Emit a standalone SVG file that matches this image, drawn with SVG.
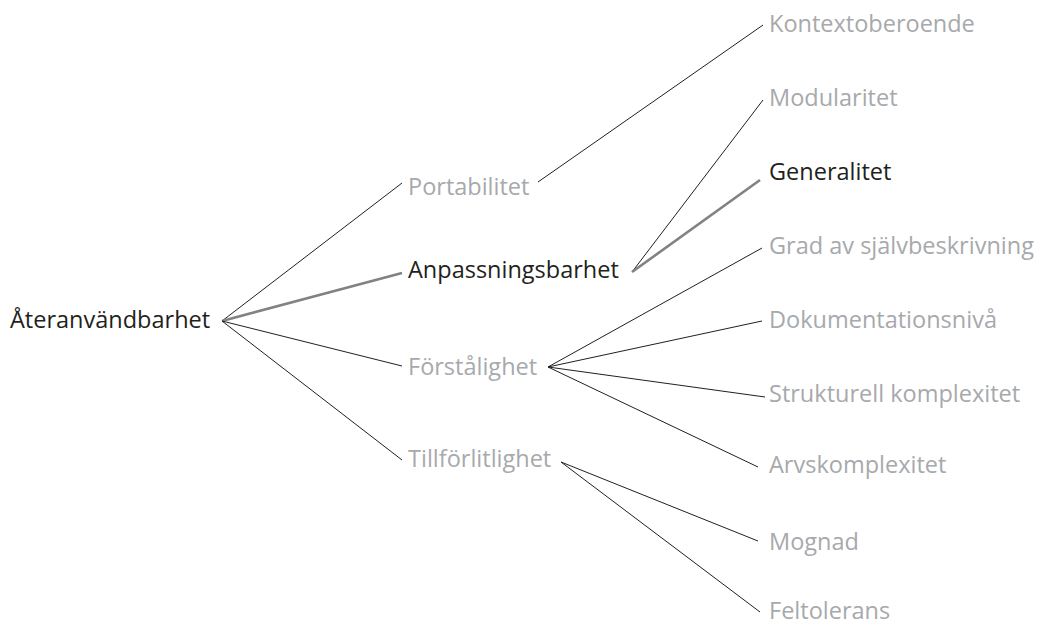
<svg xmlns="http://www.w3.org/2000/svg" width="1039" height="628" viewBox="0 0 1039 628">
<style>
text{font-family:"Open Sans","Noto Sans","Liberation Sans",sans-serif;font-size:23.5px}
.dim{fill:#a7a9ac}
.act{fill:#231f20}
.thin{stroke:#231f20;stroke-width:1;fill:none}
.thick{stroke:#808285;stroke-width:2.6;fill:none}
</style>
<rect width="1039" height="628" fill="#fff"/>
<g id="connectors">
<line class="thin" x1="222" y1="321" x2="402" y2="183"/>
<line class="thick" x1="222" y1="321" x2="402" y2="273"/>
<line class="thin" x1="222" y1="321" x2="402" y2="366"/>
<line class="thin" x1="222" y1="321" x2="402" y2="460"/>
<line class="thin" x1="538" y1="182" x2="763" y2="25"/>
<line class="thin" x1="632" y1="272" x2="763" y2="100"/>
<line class="thick" x1="632" y1="272" x2="760" y2="180"/>
<line class="thin" x1="548" y1="367" x2="762" y2="248"/>
<line class="thin" x1="548" y1="367" x2="762" y2="321"/>
<line class="thin" x1="548" y1="367" x2="765" y2="397"/>
<line class="thin" x1="548" y1="367" x2="758" y2="467"/>
<line class="thin" x1="561" y1="462" x2="758" y2="541"/>
<line class="thin" x1="561" y1="462" x2="760" y2="612"/>
</g>
<g id="n-root"><text class="act" x="10" y="328">Återanvändbarhet</text></g>
<g id="n-portabilitet"><text class="dim" x="408" y="195">Portabilitet</text></g>
<g id="n-anpassningsbarhet"><text class="act" x="408" y="278">Anpassningsbarhet</text></g>
<g id="n-forstalighet"><text class="dim" x="408" y="375">Förstålighet</text></g>
<g id="n-tillforlitlighet"><text class="dim" x="408" y="467">Tillförlitlighet</text></g>
<g id="n-kontext"><text class="dim" x="769" y="32">Kontextoberoende</text></g>
<g id="n-modularitet"><text class="dim" x="769" y="106">Modularitet</text></g>
<g id="n-generalitet"><text class="act" x="769" y="180">Generalitet</text></g>
<g id="n-grad"><text class="dim" x="769" y="254">Grad av självbeskrivning</text></g>
<g id="n-doku"><text class="dim" x="769" y="328">Dokumentationsnivå</text></g>
<g id="n-strukt"><text class="dim" x="769" y="402">Strukturell komplexitet</text></g>
<g id="n-arvs"><text class="dim" x="769" y="473">Arvskomplexitet</text></g>
<g id="n-mognad"><text class="dim" x="769" y="550">Mognad</text></g>
<g id="n-feltolerans"><text class="dim" x="769" y="619">Feltolerans</text></g>
</svg>
